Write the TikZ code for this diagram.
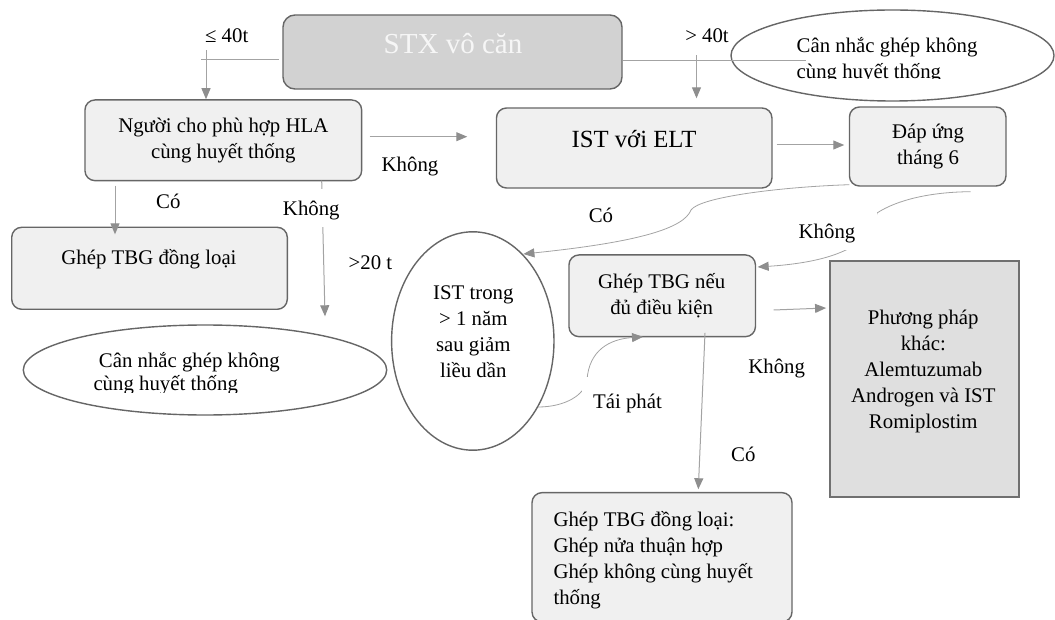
\documentclass[tikz,border=0pt]{standalone}
\usepackage{fontspec}
\setmainfont{Liberation Serif}
\usetikzlibrary{shapes.geometric,arrows.meta,calc}
\definecolor{boxline}{HTML}{666666}
\definecolor{boxfill}{HTML}{F0F0F0}
\definecolor{stxfill}{HTML}{D2D2D2}
\definecolor{stxtext}{HTML}{F6F6F6}
\definecolor{ppfill}{HTML}{DFDFDF}
\definecolor{ppline}{HTML}{707070}
\definecolor{connline}{HTML}{A3A3A3}
\definecolor{connhead}{HTML}{8E8E8E}
\newcommand{\TLines}[2]{\begin{tabular}[t]{@{}#1@{}}#2\end{tabular}}
\begin{document}
\begin{tikzpicture}[x=1pt,y=-1pt,
  rbox/.style={draw=boxline, line width=1.4pt, fill=boxfill, rounded corners=10pt, inner sep=0pt},
  ell/.style={ellipse, draw=boxline, line width=1.4pt, fill=white, inner sep=0pt},
  txt/.style={font=\fontsize{20.8}{25.8}\selectfont, inner sep=0pt, anchor=base},
  conn/.style={draw=connline, line width=1pt, -{Triangle[length=11pt,width=9pt,color=connhead]}},
  plainline/.style={draw=connline, line width=1pt},
  cover/.style={fill=white, inner sep=0pt}]
\useasboundingbox (0,0) rectangle (1055,620);

% ---------- shapes ----------
\node[rbox, fill=stxfill, rounded corners=12pt, minimum width=339pt, minimum height=74pt] (stx) at (452.5,52) {};
\node[ell, minimum width=323pt, minimum height=91pt] (ellTop) at (892.5,55.5) {};
\node[rbox, minimum width=276.7pt, minimum height=80.7pt] (nguoi) at (223.3,140.3) {};
\node[rbox, minimum width=275.6pt, minimum height=82pt] (ghepA) at (149.5,268.3) {};
\node[rbox, minimum width=275.5pt, minimum height=80pt] (ist) at (634.2,148) {};
\node[rbox, minimum width=156.5pt, minimum height=79pt] (dap) at (927.7,146.5) {};
\node[rbox, minimum width=186.5pt, minimum height=81.7pt] (ghepN) at (662.2,295.8) {};
\node[draw=ppline, line width=1.8pt, fill=ppfill, minimum width=189pt, minimum height=236pt, inner sep=0pt] (pp) at (924.5,378.7) {};
\node[rbox, minimum width=260pt, minimum height=129.3pt] (ghepB) at (662,557.3) {};
\node[ell, minimum width=162.4pt, minimum height=218.4pt] (ellIST) at (472.8,341) {};
\node[ell, minimum width=363.4pt, minimum height=90pt] (ellLow) at (205,370) {};

% ---------- connectors ----------
\draw[plainline] ($(stx.west)+(-3.4,8)$) -- ++(-77.6,0);
\draw[conn] ($(nguoi.north)+(-17.3,-49)$) -- (nguoi.north -| 206,0);
\draw[plainline] ($(stx.east)+(0,9)$) -- ++(183,0);
\draw[conn] ($(ist.north)+(62.3,-52)$) -- ($(ist.north)+(62.3,-9)$);
\draw[conn] ($(nguoi.east)+(7.3,-3.6)$) -- ($(ist.west)+(-28.5,-11.3)$);
\draw[conn] ($(ist.east)+(4,-3)$) -- ($(dap.west)+(-4.5,-1.5)$);
\draw[conn] ($(nguoi.south)+(-108.3,4.3)$) -- ($(ghepA.north)+(-34.5,7.7)$);
\draw[conn] ($(nguoi.south)+(98.4,-0.7)$) -- ($(ellLow.north)+(120,-8)$);
\draw[conn] ($(ghepN.east)+(17.5,14.2)$) -- ($(pp.west)+(-3,-70.7)$);
\draw[conn] ($(ghepN.south)+(42.8,-4.5)$) -- ($(ghepB.north)+(36.3,-2.7)$);

\coordinate (coS) at ($(dap.south west)+(0.5,-2)$);
\coordinate (coE) at ($(ellIST.center)+(50.6,-87)$);
\draw[conn, line width=0.8pt] (coS) .. controls (780,187) and (700,197) .. (691,210)
   .. controls (684,228) and (640,242) .. (coE);

\coordinate (khS) at ($(dap.south east)+(-36,5)$);
\coordinate (khE) at ($(ghepN.east)+(1.5,-28.8)$);
\draw[conn, line width=0.8pt] (khS) .. controls (930,192) and (897,200) .. (877,213)
   .. controls (872,245) and (835,262) .. (khE);

\coordinate (tpS) at ($(ellIST.center)+(65.2,66)$);
\coordinate (tpE) at ($(ghepN.south)+(-19.2,-0.5)$);
\draw[conn, line width=0.8pt] (tpS) .. controls (565,407) and (585,395) .. (587,380)
   .. controls (589,350) and (610,339) .. (tpE);

% ---------- texts in shapes ----------
\node[txt, font=\fontsize{29}{34}\selectfont, text=stxtext] (stxT) at (453,53.5) {STX vô căn};
\begin{scope}
\clip (720,0) rectangle (1055,79);
\node[txt, anchor=base west] (ellTopT) at (796.5,53) {\TLines{l}{Cân nhắc ghép không\\cùng huyết thống}};
\end{scope}
\node[txt] (nguoiT) at (223.3,133) {\TLines{c}{Người cho phù hợp HLA\\cùng huyết thống}};
\node[txt] (ghepAT) at (149,265) {Ghép TBG đồng loại};
\node[txt, font=\fontsize{24.7}{30}\selectfont] (istT) at (634,148) {IST với ELT};
\node[txt] (dapT) at (928,138.3) {\TLines{c}{Đáp ứng\\tháng 6}};
\node[txt] (ghepNT) at (661.7,288.3) {\TLines{c}{Ghép TBG nếu\\đủ điều kiện}};
\node[txt] (ppT) at (923.3,325) {\TLines{c}{Phương pháp\\khác:\\Alemtuzumab\\Androgen và IST\\Romiplostim}};
\node[txt, anchor=base west] (ghepBT) at (553.3,526.7) {\TLines{l}{Ghép TBG đồng loại:\\Ghép nửa thuận hợp\\Ghép không cùng huyết\\thống}};
\node[txt] (ellISTT) at (473.3,300) {\TLines{c}{IST trong\\> 1 năm\\sau giảm\\liều dần}};
\begin{scope}
\clip (0,300) rectangle (400,392.5);
\node[txt, anchor=base west] (ellLowA) at (98.7,367) {Cân nhắc ghép không};
\node[txt, anchor=base west] (ellLowB) at (93.3,390.8) {cùng huyết thống};
\end{scope}

% ---------- labels ----------
\node[txt] (le40) at (226.7,43) {≤ 40t};
\node[txt] (gt40) at (707,43) {> 40t};
\node[txt] (khong1) at (410,171.7) {Không};
\node[txt] (co1) at (168.3,208.3) {Có};
\node[txt, cover, text height=27pt, text depth=10.7pt] (khong2) at (311.3,216) {Không};
\node[txt] (gt20) at (370.5,270) {>20 t};
\node[txt] (co2) at (601,222.5) {Có};
\node[txt, cover, minimum width=100pt, text height=26.3pt, text depth=11.7pt] (khong3) at (827,238.3) {Không};
\node[txt, cover, minimum width=91pt, text height=31.3pt, text depth=8pt] (taiphat) at (627.5,408.3) {Tái phát};
\node[txt] (khong4) at (776.7,373.3) {Không};
\node[txt] (co3) at (743.3,461.7) {Có};
\end{tikzpicture}
\end{document}
